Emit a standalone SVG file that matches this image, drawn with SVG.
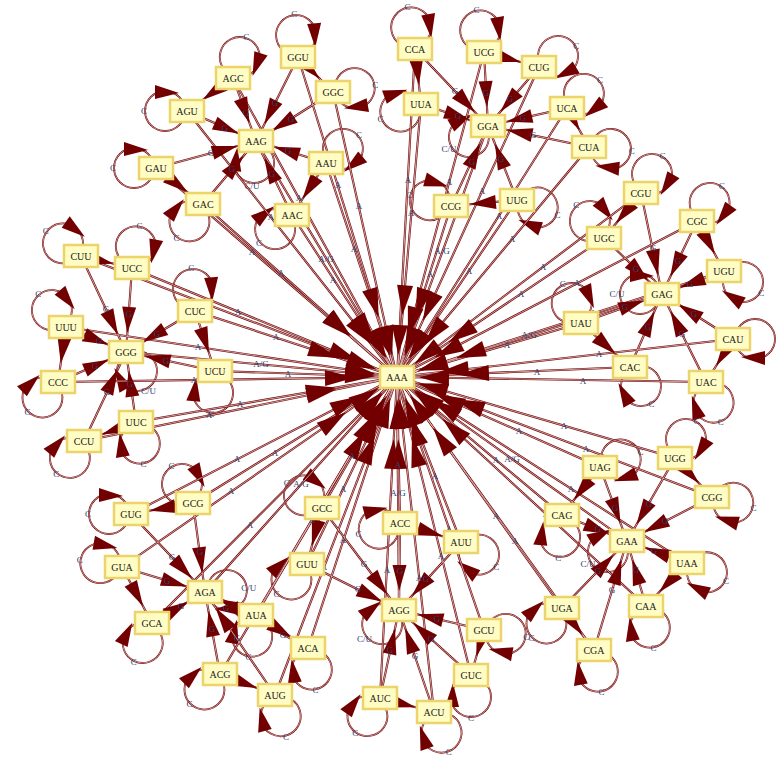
<svg xmlns="http://www.w3.org/2000/svg" xmlns:xlink="http://www.w3.org/1999/xlink" width="784" height="774" viewBox="0 0 784 774">
<style>
.nd rect{fill:#fffcc4;stroke:#ecd46a;stroke-width:2.5}
.nd text{font-family:"Liberation Serif","DejaVu Serif",serif;font-size:10px;fill:#222;text-anchor:middle}
.lb{font-family:"Liberation Serif","DejaVu Serif",serif;font-size:9px;fill:#2c4270;stroke:none;text-anchor:middle}
</style>
<defs>
<marker id="ah" markerUnits="userSpaceOnUse" markerWidth="50" markerHeight="16" refX="45" refY="7" orient="auto" overflow="visible"><path d="M0,0L26,7L0,14z" fill="#730000"/></marker>
<marker id="ah1" markerUnits="userSpaceOnUse" markerWidth="60" markerHeight="16" refX="52" refY="8" orient="auto" overflow="visible"><path d="M0,0L30,8L0,16z" fill="#730000"/></marker>
<marker id="ah2" markerUnits="userSpaceOnUse" markerWidth="80" markerHeight="16" refX="72" refY="8" orient="auto" overflow="visible"><path d="M0,0L30,8L0,16z" fill="#730000"/></marker>
<marker id="ah3" markerUnits="userSpaceOnUse" markerWidth="100" markerHeight="16" refX="92" refY="8" orient="auto" overflow="visible"><path d="M0,0L30,8L0,16z" fill="#730000"/></marker>
<g id="lp"><circle cx="22" cy="0" r="20" fill="none" stroke="#730000" stroke-width="1.8"/><circle cx="22" cy="0" r="20" fill="none" stroke="#efdada" stroke-width="0.6"/><path d="M8,18L32,12L32,26z" fill="#730000" stroke="none"/></g>
<g id="E">
<g id="E1">
<path d="M256 141L397 377"/><path d="M488 126L397 377"/><path d="M662 294L397 377"/><path d="M126 352L397 377"/><path d="M205 592L397 377"/><path d="M399 610L397 377"/><path d="M627 541L397 377"/>
<path d="M233 78L397 377"/><path d="M326 163L397 377"/><path d="M333 92L397 377"/>
<path d="M415 49L397 377"/><path d="M567 108L397 377"/><path d="M517 200L397 377"/>
<path d="M641 193L397 377"/><path d="M581 323L397 377"/><path d="M706 382L397 377"/>
<path d="M81 256L397 377"/><path d="M66 327L397 377"/><path d="M215 371L397 377"/>
<path d="M193 503L397 377"/><path d="M152 623L397 377"/><path d="M308 648L397 377"/>
<path d="M322 508L397 377"/><path d="M461 542L397 377"/><path d="M434 712L397 377"/>
<path d="M675 458L397 377"/><path d="M562 515L397 377"/><path d="M594 650L397 377"/>
</g>
<g id="E2">
<path d="M187 111L397 377"/><path d="M292 215L397 377"/>
<path d="M484 52L397 377"/><path d="M589 147L397 377"/>
<path d="M697 221L397 377"/><path d="M733 339L397 377"/>
<path d="M132 268L397 377"/><path d="M58 382L397 377"/>
<path d="M131 514L397 377"/><path d="M220 674L397 377"/>
<path d="M307 564L397 377"/><path d="M484 630L397 377"/>
<path d="M600 467L397 377"/><path d="M687 563L397 377"/>
</g>
<g id="E3">
<path d="M156 168L397 377"/><path d="M203 204L397 377"/><path d="M298 57L397 377"/>
<path d="M539 67L397 377"/><path d="M421 104L397 377"/><path d="M451 206L397 377"/>
<path d="M604 238L397 377"/><path d="M724 271L397 377"/><path d="M630 367L397 377"/>
<path d="M195 311L397 377"/><path d="M136 422L397 377"/><path d="M84 441L397 377"/>
<path d="M122 567L397 377"/><path d="M275 695L397 377"/><path d="M256 615L397 377"/>
<path d="M400 523L397 377"/><path d="M471 675L397 377"/><path d="M380 698L397 377"/>
<path d="M712 497L397 377"/><path d="M562 608L397 377"/><path d="M646 606L397 377"/>
</g>
<g id="E4">
<path d="M233 78L256 141"/><path d="M187 111L256 141"/><path d="M156 168L256 141"/><path d="M203 204L256 141"/><path d="M326 163L256 141"/><path d="M292 215L256 141"/><path d="M298 57L256 141"/><path d="M333 92L256 141"/>
<path d="M415 49L488 126"/><path d="M484 52L488 126"/><path d="M539 67L488 126"/><path d="M421 104L488 126"/><path d="M567 108L488 126"/><path d="M589 147L488 126"/><path d="M451 206L488 126"/><path d="M517 200L488 126"/>
<path d="M641 193L662 294"/><path d="M697 221L662 294"/><path d="M604 238L662 294"/><path d="M724 271L662 294"/><path d="M581 323L662 294"/><path d="M733 339L662 294"/><path d="M630 367L662 294"/><path d="M706 382L662 294"/>
<path d="M81 256L126 352"/><path d="M132 268L126 352"/><path d="M195 311L126 352"/><path d="M66 327L126 352"/><path d="M58 382L126 352"/><path d="M136 422L126 352"/><path d="M84 441L126 352"/><path d="M215 371L126 352"/>
<path d="M193 503L205 592"/><path d="M131 514L205 592"/><path d="M122 567L205 592"/><path d="M152 623L205 592"/><path d="M220 674L205 592"/><path d="M275 695L205 592"/><path d="M256 615L205 592"/><path d="M308 648L205 592"/>
<path d="M322 508L399 610"/><path d="M307 564L399 610"/><path d="M400 523L399 610"/><path d="M461 542L399 610"/><path d="M484 630L399 610"/><path d="M471 675L399 610"/><path d="M380 698L399 610"/><path d="M434 712L399 610"/>
<path d="M675 458L627 541"/><path d="M600 467L627 541"/><path d="M712 497L627 541"/><path d="M562 515L627 541"/><path d="M687 563L627 541"/><path d="M562 608L627 541"/><path d="M646 606L627 541"/><path d="M594 650L627 541"/>
<path d="M233 78L187 111"/><path d="M298 57L333 92"/><path d="M326 163L292 215"/><path d="M156 168L203 204"/>
<path d="M415 49L421 104"/><path d="M484 52L539 67"/><path d="M567 108L589 147"/><path d="M517 200L451 206"/>
<path d="M641 193L604 238"/><path d="M697 221L724 271"/><path d="M581 323L630 367"/><path d="M733 339L706 382"/>
<path d="M81 256L132 268"/><path d="M195 311L215 371"/><path d="M66 327L58 382"/><path d="M136 422L84 441"/>
<path d="M193 503L131 514"/><path d="M122 567L152 623"/><path d="M220 674L275 695"/><path d="M256 615L308 648"/>
<path d="M322 508L307 564"/><path d="M400 523L461 542"/><path d="M484 630L471 675"/><path d="M380 698L434 712"/>
<path d="M675 458L712 497"/><path d="M600 467L562 515"/><path d="M562 608L594 650"/><path d="M687 563L646 606"/>
</g>
</g>
</defs>
<rect width="784" height="774" fill="#ffffff"/>
<g id="connectors">
<g id="loops">
<g transform="translate(256 141) rotate(95)"><use href="#lp"/><text class="lb" x="45" y="3" transform="rotate(-95 45 0)">C/U</text></g>
<g transform="translate(488 126) rotate(150)"><use href="#lp"/><text class="lb" x="45" y="3" transform="rotate(-150 45 0)">C/U</text></g>
<g transform="translate(662 294) rotate(180)"><use href="#lp"/><text class="lb" x="45" y="3" transform="rotate(-180 45 0)">C/U</text></g>
<g transform="translate(126 352) rotate(60)"><use href="#lp"/><text class="lb" x="45" y="3" transform="rotate(-60 45 0)">C/U</text></g>
<g transform="translate(205 592) rotate(-5)"><use href="#lp"/><text class="lb" x="44" y="3" transform="rotate(5 44 0)">C/U</text></g>
<g transform="translate(399 610) rotate(140)"><use href="#lp"/><text class="lb" x="45" y="3" transform="rotate(-140 45 0)">C/U</text></g>
<g transform="translate(627 541) rotate(150)"><use href="#lp"/><text class="lb" x="45" y="3" transform="rotate(-150 45 0)">C/U</text></g>
<g transform="translate(233 78) rotate(-72)"><use href="#lp"/><text class="lb" x="43" y="3" transform="rotate(72 43 0)">C</text></g>
<g transform="translate(187 111) rotate(180)"><use href="#lp"/><text class="lb" x="43" y="3" transform="rotate(-180 43 0)">C</text></g>
<g transform="translate(156 168) rotate(180)"><use href="#lp"/><text class="lb" x="43" y="3" transform="rotate(-180 43 0)">C</text></g>
<g transform="translate(203 204) rotate(128)"><use href="#lp"/><text class="lb" x="43" y="3" transform="rotate(-128 43 0)">C</text></g>
<g transform="translate(326 163) rotate(-40)"><use href="#lp"/><text class="lb" x="43" y="3" transform="rotate(40 43 0)">C</text></g>
<g transform="translate(292 215) rotate(140)"><use href="#lp"/><text class="lb" x="43" y="3" transform="rotate(-140 43 0)">C</text></g>
<g transform="translate(298 57) rotate(-95)"><use href="#lp"/><text class="lb" x="43" y="3" transform="rotate(95 43 0)">C</text></g>
<g transform="translate(333 92) rotate(-10)"><use href="#lp"/><text class="lb" x="43" y="3" transform="rotate(10 43 0)">C</text></g>
<g transform="translate(415 49) rotate(-100)"><use href="#lp"/><text class="lb" x="43" y="3" transform="rotate(100 43 0)">C</text></g>
<g transform="translate(484 52) rotate(-100)"><use href="#lp"/><text class="lb" x="43" y="3" transform="rotate(100 43 0)">C</text></g>
<g transform="translate(539 67) rotate(-30)"><use href="#lp"/><text class="lb" x="43" y="3" transform="rotate(30 43 0)">C</text></g>
<g transform="translate(421 104) rotate(160)"><use href="#lp"/><text class="lb" x="43" y="3" transform="rotate(-160 43 0)">C</text></g>
<g transform="translate(567 108) rotate(-40)"><use href="#lp"/><text class="lb" x="43" y="3" transform="rotate(40 43 0)">C</text></g>
<g transform="translate(589 147) rotate(5)"><use href="#lp"/><text class="lb" x="43" y="3" transform="rotate(-5 43 0)">C</text></g>
<g transform="translate(451 206) rotate(195)"><use href="#lp"/><text class="lb" x="43" y="3" transform="rotate(-195 43 0)">C</text></g>
<g transform="translate(517 200) rotate(20)"><use href="#lp"/><text class="lb" x="43" y="3" transform="rotate(-20 43 0)">C</text></g>
<g transform="translate(641 193) rotate(-60)"><use href="#lp"/><text class="lb" x="43" y="3" transform="rotate(60 43 0)">C</text></g>
<g transform="translate(697 221) rotate(-55)"><use href="#lp"/><text class="lb" x="43" y="3" transform="rotate(55 43 0)">C</text></g>
<g transform="translate(604 238) rotate(-130)"><use href="#lp"/><text class="lb" x="43" y="3" transform="rotate(130 43 0)">C</text></g>
<g transform="translate(724 271) rotate(30)"><use href="#lp"/><text class="lb" x="43" y="3" transform="rotate(-30 43 0)">C</text></g>
<g transform="translate(581 323) rotate(-115)"><use href="#lp"/><text class="lb" x="43" y="3" transform="rotate(115 43 0)">C</text></g>
<g transform="translate(733 339) rotate(0)"><use href="#lp"/></g>
<g transform="translate(630 367) rotate(60)"><use href="#lp"/><text class="lb" x="43" y="3" transform="rotate(-60 43 0)">C</text></g>
<g transform="translate(706 382) rotate(70)"><use href="#lp"/><text class="lb" x="43" y="3" transform="rotate(-70 43 0)">C</text></g>
<g transform="translate(81 256) rotate(-145)"><use href="#lp"/><text class="lb" x="43" y="3" transform="rotate(145 43 0)">C</text></g>
<g transform="translate(132 268) rotate(-80)"><use href="#lp"/><text class="lb" x="43" y="3" transform="rotate(80 43 0)">C</text></g>
<g transform="translate(195 311) rotate(-95)"><use href="#lp"/><text class="lb" x="43" y="3" transform="rotate(95 43 0)">C</text></g>
<g transform="translate(66 327) rotate(-130)"><use href="#lp"/><text class="lb" x="43" y="3" transform="rotate(130 43 0)">C</text></g>
<g transform="translate(58 382) rotate(135)"><use href="#lp"/><text class="lb" x="43" y="3" transform="rotate(-135 43 0)">C</text></g>
<g transform="translate(136 422) rotate(80)"><use href="#lp"/><text class="lb" x="43" y="3" transform="rotate(-80 43 0)">C</text></g>
<g transform="translate(84 441) rotate(130)"><use href="#lp"/><text class="lb" x="43" y="3" transform="rotate(-130 43 0)">C</text></g>
<g transform="translate(215 371) rotate(95)"><use href="#lp"/><text class="lb" x="43" y="3" transform="rotate(-95 43 0)">C</text></g>
<g transform="translate(193 503) rotate(-120)"><use href="#lp"/><text class="lb" x="43" y="3" transform="rotate(120 43 0)">C</text></g>
<g transform="translate(131 514) rotate(180)"><use href="#lp"/><text class="lb" x="43" y="3" transform="rotate(-180 43 0)">C</text></g>
<g transform="translate(122 567) rotate(190)"><use href="#lp"/><text class="lb" x="43" y="3" transform="rotate(-190 43 0)">C</text></g>
<g transform="translate(152 623) rotate(115)"><use href="#lp"/><text class="lb" x="43" y="3" transform="rotate(-115 43 0)">C</text></g>
<g transform="translate(220 674) rotate(135)"><use href="#lp"/><text class="lb" x="43" y="3" transform="rotate(-135 43 0)">C</text></g>
<g transform="translate(275 695) rotate(75)"><use href="#lp"/><text class="lb" x="43" y="3" transform="rotate(-75 43 0)">C</text></g>
<g transform="translate(256 615) rotate(100)"><use href="#lp"/><text class="lb" x="43" y="3" transform="rotate(-100 43 0)">C</text></g>
<g transform="translate(308 648) rotate(80)"><use href="#lp"/><text class="lb" x="43" y="3" transform="rotate(-80 43 0)">C</text></g>
<g transform="translate(322 508) rotate(-145)"><use href="#lp"/><text class="lb" x="43" y="3" transform="rotate(145 43 0)">C</text></g>
<g transform="translate(307 564) rotate(135)"><use href="#lp"/><text class="lb" x="43" y="3" transform="rotate(-135 43 0)">C</text></g>
<g transform="translate(400 523) rotate(165)"><use href="#lp"/><text class="lb" x="43" y="3" transform="rotate(-165 43 0)">C</text></g>
<g transform="translate(461 542) rotate(35)"><use href="#lp"/><text class="lb" x="43" y="3" transform="rotate(-35 43 0)">C</text></g>
<g transform="translate(484 630) rotate(10)"><use href="#lp"/><text class="lb" x="43" y="3" transform="rotate(-10 43 0)">C</text></g>
<g transform="translate(471 675) rotate(90)"><use href="#lp"/><text class="lb" x="43" y="3" transform="rotate(-90 43 0)">C</text></g>
<g transform="translate(380 698) rotate(125)"><use href="#lp"/><text class="lb" x="43" y="3" transform="rotate(-125 43 0)">C</text></g>
<g transform="translate(434 712) rotate(70)"><use href="#lp"/><text class="lb" x="43" y="3" transform="rotate(-70 43 0)">C</text></g>
<g transform="translate(675 458) rotate(-60)"><use href="#lp"/><text class="lb" x="43" y="3" transform="rotate(60 43 0)">C</text></g>
<g transform="translate(600 467) rotate(-20)"><use href="#lp"/><text class="lb" x="43" y="3" transform="rotate(20 43 0)">C</text></g>
<g transform="translate(712 497) rotate(15)"><use href="#lp"/><text class="lb" x="43" y="3" transform="rotate(-15 43 0)">C</text></g>
<g transform="translate(562 515) rotate(95)"><use href="#lp"/><text class="lb" x="43" y="3" transform="rotate(-95 43 0)">C</text></g>
<g transform="translate(687 563) rotate(25)"><use href="#lp"/><text class="lb" x="43" y="3" transform="rotate(-25 43 0)">C</text></g>
<g transform="translate(562 608) rotate(135)"><use href="#lp"/><text class="lb" x="43" y="3" transform="rotate(-135 43 0)">C</text></g>
<g transform="translate(646 606) rotate(80)"><use href="#lp"/><text class="lb" x="43" y="3" transform="rotate(-80 43 0)">C</text></g>
<g transform="translate(594 650) rotate(80)"><use href="#lp"/><text class="lb" x="43" y="3" transform="rotate(-80 43 0)">C</text></g>
</g>
<use href="#E" fill="none" stroke="#730000" stroke-width="2.1"/>
<use href="#E" fill="none" stroke="#f2e2e2" stroke-width="0.7"/>
<use href="#E1" fill="none" stroke="none" marker-end="url(#ah1)"/>
<use href="#E2" fill="none" stroke="none" marker-end="url(#ah2)"/>
<use href="#E3" fill="none" stroke="none" marker-end="url(#ah3)"/>
<use href="#E4" fill="none" stroke="none" marker-end="url(#ah)"/>
<g id="edge-labels" class="lb">
<text x="326" y="262">A/G</text><text x="442" y="254">A/G</text><text x="529" y="338">A/G</text><text x="261" y="367">A/G</text><text x="301" y="487">A/G</text><text x="398" y="496">A/G</text><text x="512" y="462">A/G</text>
<text x="299" y="201">A</text><text x="271" y="220">A</text><text x="252" y="255">A</text><text x="281" y="276">A</text><text x="354" y="252">A</text><text x="333" y="283">A</text><text x="338" y="188">A</text><text x="359" y="209">A</text>
<text x="408" y="183">A</text><text x="449" y="185">A</text><text x="482" y="194">A</text><text x="411" y="216">A</text><text x="499" y="219">A</text><text x="512" y="242">A</text><text x="430" y="277">A</text><text x="469" y="274">A</text>
<text x="543" y="270">A</text><text x="577" y="286">A</text><text x="521" y="297">A</text><text x="593" y="316">A</text><text x="507" y="348">A</text><text x="599" y="357">A</text><text x="537" y="375">A</text><text x="583" y="384">A</text>
<text x="207" y="307">A</text><text x="238" y="315">A</text><text x="276" y="340">A</text><text x="198" y="350">A</text><text x="194" y="383">A</text><text x="240" y="407">A</text><text x="209" y="418">A</text><text x="288" y="377">A</text>
<text x="275" y="456">A</text><text x="237" y="462">A</text><text x="231" y="494">A</text><text x="250" y="528">A</text><text x="291" y="558">A</text><text x="324" y="570">A</text><text x="312" y="523">A</text><text x="343" y="543">A</text>
<text x="352" y="459">A</text><text x="343" y="492">A</text><text x="398" y="468">A</text><text x="435" y="479">A</text><text x="449" y="532">A</text><text x="441" y="559">A</text><text x="387" y="573">A</text><text x="419" y="581">A</text>
<text x="564" y="429">A</text><text x="519" y="434">A</text><text x="586" y="452">A</text><text x="496" y="463">A</text><text x="571" y="492">A</text><text x="496" y="519">A</text><text x="546" y="517">A</text><text x="515" y="544">A</text>
<text x="246" y="116">G</text><text x="225" y="131">G</text><text x="211" y="156">G</text><text x="232" y="172">G</text><text x="288" y="154">G</text><text x="272" y="177">G</text><text x="275" y="106">G</text><text x="291" y="122">G</text>
<text x="455" y="94">G</text><text x="486" y="96">G</text><text x="510" y="102">G</text><text x="458" y="119">G</text><text x="523" y="121">G</text><text x="533" y="138">G</text><text x="472" y="165">G</text><text x="501" y="162">G</text>
<text x="653" y="251">G</text><text x="678" y="264">G</text><text x="636" y="272">G</text><text x="690" y="287">G</text><text x="625" y="310">G</text><text x="694" y="317">G</text><text x="648" y="330">G</text><text x="682" y="337">G</text>
<text x="106" y="312">G</text><text x="129" y="317">G</text><text x="157" y="337">G</text><text x="99" y="344">G</text><text x="95" y="369">G</text><text x="130" y="387">G</text><text x="107" y="395">G</text><text x="166" y="364">G</text>
<text x="200" y="555">G</text><text x="172" y="560">G</text><text x="167" y="584">G</text><text x="181" y="609">G</text><text x="212" y="632">G</text><text x="237" y="641">G</text><text x="226" y="611">G</text><text x="283" y="638">G</text>
<text x="364" y="567">G</text><text x="358" y="592">G</text><text x="400" y="574">G</text><text x="426" y="582">G</text><text x="437" y="622">G</text><text x="431" y="642">G</text><text x="390" y="653">G</text><text x="415" y="659">G</text>
<text x="649" y="507">G</text><text x="615" y="511">G</text><text x="665" y="524">G</text><text x="598" y="532">G</text><text x="654" y="554">G</text><text x="598" y="574">G</text><text x="636" y="573">G</text><text x="612" y="593">G</text>
</g>
</g>
<g id="nodes">
<g id="AAA" class="nd" transform="translate(397 377)"><rect x="-17" y="-11" width="34" height="22"/><text y="3.5">AAA</text></g>
<g id="AAG" class="nd" transform="translate(256 141)"><rect x="-17" y="-11" width="34" height="22"/><text y="3.5">AAG</text></g>
<g id="GGA" class="nd" transform="translate(488 126)"><rect x="-17" y="-11" width="34" height="22"/><text y="3.5">GGA</text></g>
<g id="GAG" class="nd" transform="translate(662 294)"><rect x="-17" y="-11" width="34" height="22"/><text y="3.5">GAG</text></g>
<g id="GGG" class="nd" transform="translate(126 352)"><rect x="-17" y="-11" width="34" height="22"/><text y="3.5">GGG</text></g>
<g id="AGA" class="nd" transform="translate(205 592)"><rect x="-17" y="-11" width="34" height="22"/><text y="3.5">AGA</text></g>
<g id="AGG" class="nd" transform="translate(399 610)"><rect x="-17" y="-11" width="34" height="22"/><text y="3.5">AGG</text></g>
<g id="GAA" class="nd" transform="translate(627 541)"><rect x="-17" y="-11" width="34" height="22"/><text y="3.5">GAA</text></g>
<g id="AGC" class="nd" transform="translate(233 78)"><rect x="-17" y="-11" width="34" height="22"/><text y="3.5">AGC</text></g>
<g id="AGU" class="nd" transform="translate(187 111)"><rect x="-17" y="-11" width="34" height="22"/><text y="3.5">AGU</text></g>
<g id="GAU" class="nd" transform="translate(156 168)"><rect x="-17" y="-11" width="34" height="22"/><text y="3.5">GAU</text></g>
<g id="GAC" class="nd" transform="translate(203 204)"><rect x="-17" y="-11" width="34" height="22"/><text y="3.5">GAC</text></g>
<g id="AAU" class="nd" transform="translate(326 163)"><rect x="-17" y="-11" width="34" height="22"/><text y="3.5">AAU</text></g>
<g id="AAC" class="nd" transform="translate(292 215)"><rect x="-17" y="-11" width="34" height="22"/><text y="3.5">AAC</text></g>
<g id="GGU" class="nd" transform="translate(298 57)"><rect x="-17" y="-11" width="34" height="22"/><text y="3.5">GGU</text></g>
<g id="GGC" class="nd" transform="translate(333 92)"><rect x="-17" y="-11" width="34" height="22"/><text y="3.5">GGC</text></g>
<g id="CCA" class="nd" transform="translate(415 49)"><rect x="-17" y="-11" width="34" height="22"/><text y="3.5">CCA</text></g>
<g id="UCG" class="nd" transform="translate(484 52)"><rect x="-17" y="-11" width="34" height="22"/><text y="3.5">UCG</text></g>
<g id="CUG" class="nd" transform="translate(539 67)"><rect x="-17" y="-11" width="34" height="22"/><text y="3.5">CUG</text></g>
<g id="UUA" class="nd" transform="translate(421 104)"><rect x="-17" y="-11" width="34" height="22"/><text y="3.5">UUA</text></g>
<g id="UCA" class="nd" transform="translate(567 108)"><rect x="-17" y="-11" width="34" height="22"/><text y="3.5">UCA</text></g>
<g id="CUA" class="nd" transform="translate(589 147)"><rect x="-17" y="-11" width="34" height="22"/><text y="3.5">CUA</text></g>
<g id="CCG" class="nd" transform="translate(451 206)"><rect x="-17" y="-11" width="34" height="22"/><text y="3.5">CCG</text></g>
<g id="UUG" class="nd" transform="translate(517 200)"><rect x="-17" y="-11" width="34" height="22"/><text y="3.5">UUG</text></g>
<g id="CGU" class="nd" transform="translate(641 193)"><rect x="-17" y="-11" width="34" height="22"/><text y="3.5">CGU</text></g>
<g id="CGC" class="nd" transform="translate(697 221)"><rect x="-17" y="-11" width="34" height="22"/><text y="3.5">CGC</text></g>
<g id="UGC" class="nd" transform="translate(604 238)"><rect x="-17" y="-11" width="34" height="22"/><text y="3.5">UGC</text></g>
<g id="UGU" class="nd" transform="translate(724 271)"><rect x="-17" y="-11" width="34" height="22"/><text y="3.5">UGU</text></g>
<g id="UAU" class="nd" transform="translate(581 323)"><rect x="-17" y="-11" width="34" height="22"/><text y="3.5">UAU</text></g>
<g id="CAU" class="nd" transform="translate(733 339)"><rect x="-17" y="-11" width="34" height="22"/><text y="3.5">CAU</text></g>
<g id="CAC" class="nd" transform="translate(630 367)"><rect x="-17" y="-11" width="34" height="22"/><text y="3.5">CAC</text></g>
<g id="UAC" class="nd" transform="translate(706 382)"><rect x="-17" y="-11" width="34" height="22"/><text y="3.5">UAC</text></g>
<g id="CUU" class="nd" transform="translate(81 256)"><rect x="-17" y="-11" width="34" height="22"/><text y="3.5">CUU</text></g>
<g id="UCC" class="nd" transform="translate(132 268)"><rect x="-17" y="-11" width="34" height="22"/><text y="3.5">UCC</text></g>
<g id="CUC" class="nd" transform="translate(195 311)"><rect x="-17" y="-11" width="34" height="22"/><text y="3.5">CUC</text></g>
<g id="UUU" class="nd" transform="translate(66 327)"><rect x="-17" y="-11" width="34" height="22"/><text y="3.5">UUU</text></g>
<g id="CCC" class="nd" transform="translate(58 382)"><rect x="-17" y="-11" width="34" height="22"/><text y="3.5">CCC</text></g>
<g id="UUC" class="nd" transform="translate(136 422)"><rect x="-17" y="-11" width="34" height="22"/><text y="3.5">UUC</text></g>
<g id="CCU" class="nd" transform="translate(84 441)"><rect x="-17" y="-11" width="34" height="22"/><text y="3.5">CCU</text></g>
<g id="UCU" class="nd" transform="translate(215 371)"><rect x="-17" y="-11" width="34" height="22"/><text y="3.5">UCU</text></g>
<g id="GCG" class="nd" transform="translate(193 503)"><rect x="-17" y="-11" width="34" height="22"/><text y="3.5">GCG</text></g>
<g id="GUG" class="nd" transform="translate(131 514)"><rect x="-17" y="-11" width="34" height="22"/><text y="3.5">GUG</text></g>
<g id="GUA" class="nd" transform="translate(122 567)"><rect x="-17" y="-11" width="34" height="22"/><text y="3.5">GUA</text></g>
<g id="GCA" class="nd" transform="translate(152 623)"><rect x="-17" y="-11" width="34" height="22"/><text y="3.5">GCA</text></g>
<g id="ACG" class="nd" transform="translate(220 674)"><rect x="-17" y="-11" width="34" height="22"/><text y="3.5">ACG</text></g>
<g id="AUG" class="nd" transform="translate(275 695)"><rect x="-17" y="-11" width="34" height="22"/><text y="3.5">AUG</text></g>
<g id="AUA" class="nd" transform="translate(256 615)"><rect x="-17" y="-11" width="34" height="22"/><text y="3.5">AUA</text></g>
<g id="ACA" class="nd" transform="translate(308 648)"><rect x="-17" y="-11" width="34" height="22"/><text y="3.5">ACA</text></g>
<g id="GCC" class="nd" transform="translate(322 508)"><rect x="-17" y="-11" width="34" height="22"/><text y="3.5">GCC</text></g>
<g id="GUU" class="nd" transform="translate(307 564)"><rect x="-17" y="-11" width="34" height="22"/><text y="3.5">GUU</text></g>
<g id="ACC" class="nd" transform="translate(400 523)"><rect x="-17" y="-11" width="34" height="22"/><text y="3.5">ACC</text></g>
<g id="AUU" class="nd" transform="translate(461 542)"><rect x="-17" y="-11" width="34" height="22"/><text y="3.5">AUU</text></g>
<g id="GCU" class="nd" transform="translate(484 630)"><rect x="-17" y="-11" width="34" height="22"/><text y="3.5">GCU</text></g>
<g id="GUC" class="nd" transform="translate(471 675)"><rect x="-17" y="-11" width="34" height="22"/><text y="3.5">GUC</text></g>
<g id="AUC" class="nd" transform="translate(380 698)"><rect x="-17" y="-11" width="34" height="22"/><text y="3.5">AUC</text></g>
<g id="ACU" class="nd" transform="translate(434 712)"><rect x="-17" y="-11" width="34" height="22"/><text y="3.5">ACU</text></g>
<g id="UGG" class="nd" transform="translate(675 458)"><rect x="-17" y="-11" width="34" height="22"/><text y="3.5">UGG</text></g>
<g id="UAG" class="nd" transform="translate(600 467)"><rect x="-17" y="-11" width="34" height="22"/><text y="3.5">UAG</text></g>
<g id="CGG" class="nd" transform="translate(712 497)"><rect x="-17" y="-11" width="34" height="22"/><text y="3.5">CGG</text></g>
<g id="CAG" class="nd" transform="translate(562 515)"><rect x="-17" y="-11" width="34" height="22"/><text y="3.5">CAG</text></g>
<g id="UAA" class="nd" transform="translate(687 563)"><rect x="-17" y="-11" width="34" height="22"/><text y="3.5">UAA</text></g>
<g id="UGA" class="nd" transform="translate(562 608)"><rect x="-17" y="-11" width="34" height="22"/><text y="3.5">UGA</text></g>
<g id="CAA" class="nd" transform="translate(646 606)"><rect x="-17" y="-11" width="34" height="22"/><text y="3.5">CAA</text></g>
<g id="CGA" class="nd" transform="translate(594 650)"><rect x="-17" y="-11" width="34" height="22"/><text y="3.5">CGA</text></g>
</g>
</svg>
